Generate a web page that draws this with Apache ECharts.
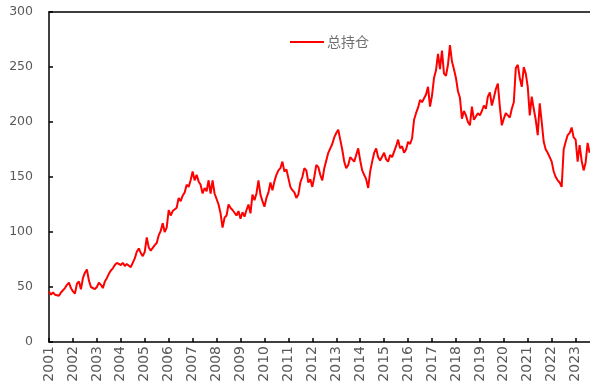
<!DOCTYPE html>
<html>
<head>
<meta charset="utf-8">
<script src="https://cdn.jsdelivr.net/npm/echarts@6/dist/echarts.min.js"></script>
<style>
  html, body { margin: 0; padding: 0; background: #fff; }
  #chart { width: 590px; height: 385px; }
</style>
</head>
<body>
<div id="chart"></div>
<script>
// Monthly total open interest, Jan 2001 onward
var seriesName = '总持仓';
var startYear = 2001;
var yTicks = [0, 50, 100, 150, 200, 250, 300];

var v2001 = [46, 43, 45, 43, 44, 42, 45, 46, 49, 52, 54, 49];
var v2002 = [46, 44, 53, 55, 48, 58, 63, 66, 56, 50, 49, 48];
var v2003 = [50, 54, 52, 49, 55, 58, 62, 65, 67, 70, 72, 73];
var v2004 = [70, 72, 69, 71, 70, 68, 67, 76, 82, 85, 81, 78];
var v2005 = [82, 95, 86, 83, 82, 88, 90, 97, 101, 108, 100, 104];
var v2006 = [120, 115, 119, 118, 122, 131, 128, 133, 136, 143, 141, 147];
var v2007 = [155, 147, 152, 146, 143, 135, 140, 137, 147, 135, 147, 135];
var v2008 = [130, 125, 117, 104, 113, 115, 125, 122, 120, 120, 115, 119];
var v2009 = [112, 118, 114, 120, 125, 117, 134, 129, 135, 147, 134, 128];
var v2010 = [123, 131, 136, 145, 138, 146, 152, 156, 158, 164, 155, 157];
var v2011 = [156, 141, 138, 136, 131, 134, 145, 150, 158, 156, 145, 148];
var v2012 = [141, 150, 161, 159, 152, 147, 158, 165, 172, 176, 180, 186];
var v2013 = [190, 193, 184, 175, 164, 158, 161, 168, 166, 164, 170, 176];
var v2014 = [165, 156, 152, 148, 140, 155, 164, 172, 176, 168, 165, 164];
var v2015 = [172, 166, 164, 170, 168, 167, 178, 184, 176, 178, 172, 175];
var v2016 = [182, 180, 185, 202, 208, 213, 220, 218, 217, 225, 232, 214];
var v2017 = [224, 240, 247, 262, 248, 265, 244, 242, 252, 270, 255, 248];
var v2018 = [240, 228, 222, 203, 210, 206, 200, 197, 214, 202, 205, 208];
var v2019 = [206, 210, 215, 212, 223, 227, 215, 222, 230, 235, 214, 197];
var v2020 = [203, 208, 206, 204, 212, 218, 249, 252, 240, 232, 250, 244];
var v2021 = [232, 206, 223, 212, 202, 188, 217, 200, 182, 175, 172, 168];
var v2022 = [164, 155, 150, 147, 145, 141, 175, 182, 188, 190, 195, 186];
var v2023 = [184, 164, 179, 165, 156, 163, 181, 172];

var years = [v2001, v2002, v2003, v2004, v2005, v2006, v2007, v2008, v2009, v2010,
             v2011, v2012, v2013, v2014, v2015, v2016, v2017, v2018, v2019, v2020,
             v2021, v2022, v2023];

// pair each monthly value with its fractional-year position
var points = [];
years.forEach(function (arr, i) {
  arr.forEach(function (v, m) {
    points.push([startYear + i + m / 12, v]);
  });
});

var chart = echarts.init(document.getElementById('chart'), null, { renderer: 'canvas' });
var labelFont = 'DejaVu Sans';
chart.setOption({
  animation: false,
  backgroundColor: '#ffffff',
  grid: { left: 49, right: 0, top: 12, bottom: 43, containLabel: false },
  legend: {
    show: true,
    left: 285,
    top: 30,
    itemWidth: 34,
    itemHeight: 2,
    itemGap: 4,
    textStyle: { color: '#6e6e6e', fontSize: 14, fontFamily: 'Noto Sans CJK SC', padding: [0, 0, 0, -2] },
    data: [{ name: seriesName, icon: 'rect', itemStyle: { color: '#ff0000' } }]
  },
  xAxis: [{
    type: 'value',
    min: 2001,
    max: 2023.6,
    interval: 1,
    axisLine: { show: true, lineStyle: { color: '#000', width: 1.5 } },
    axisTick: { show: true, inside: true, length: 4, lineStyle: { color: '#000', width: 1.5 } },
    splitLine: { show: false },
    axisLabel: {
      rotate: 90,
      margin: 4,
      color: '#595959',
      fontSize: 14,
      fontFamily: labelFont,
      showMaxLabel: false,
      formatter: function (v) { return String(Math.round(v)); }
    }
  }, {
    type: 'value',
    position: 'top',
    min: 2001,
    max: 2023.6,
    axisLine: { show: true, lineStyle: { color: '#000', width: 1.5 } },
    axisTick: { show: false },
    axisLabel: { show: false },
    splitLine: { show: false }
  }],
  yAxis: {
    type: 'value',
    min: yTicks[0],
    max: yTicks[yTicks.length - 1],
    interval: 50,
    axisLine: { show: true, lineStyle: { color: '#000', width: 1.5 } },
    axisTick: { show: true, inside: true, length: 4, lineStyle: { color: '#000', width: 1.5 } },
    splitLine: { show: false },
    axisLabel: { margin: 16, color: '#595959', fontSize: 12.5, fontFamily: labelFont }
  },
  series: [{
    name: seriesName,
    type: 'line',
    xAxisIndex: 0,
    data: points,
    symbol: 'none',
    lineStyle: { color: '#ff0000', width: 2 },
    itemStyle: { color: '#ff0000' }
  }]
});
</script>
</body>
</html>
